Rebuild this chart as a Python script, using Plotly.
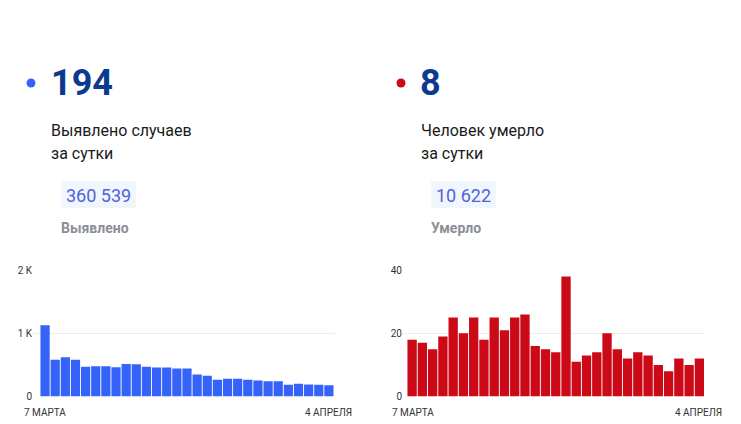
import plotly.graph_objects as go

W, H = 741, 424

days = list(range(29))
x_labels = ["7 МАРТА", "4 АПРЕЛЯ"]

cases = [1130, 580, 620, 580, 470, 480, 480, 465, 515, 510, 470, 460, 460, 445, 445,
         350, 330, 265, 280, 280, 265, 255, 240, 240, 185, 200, 190, 185, 180]
deaths = [18, 17, 15, 19, 25, 20, 25, 18, 25, 21, 25, 26, 16, 15, 14, 38, 11, 13, 14,
          20, 15, 12, 14, 13, 10, 8, 12, 10, 12]

cases_ticks = [0, 1000, 2000]
cases_ticktext = ["0", "1 K", "2 K"]
deaths_ticks = [0, 20, 40]
deaths_ticktext = ["0", "20", "40"]

headline = ["194", "8"]
subtitle_l1 = ["Выявлено случаев", "Человек умерло"]
subtitle_l2 = ["за сутки", "за сутки"]
totals = ["360 539", "10 622"]
total_labels = ["Выявлено", "Умерло"]

BLUE = "#3563f9"
RED = "#cc0a17"
NAVY = "#0b3b8f"
FONT = "Roboto"

def px(x):
    return x / W

def py(y):
    return 1 - y / H

fig = go.Figure()
fig.add_trace(go.Bar(x=days, y=cases, marker=dict(color=BLUE, line=dict(width=0)),
                     xaxis="x", yaxis="y", hoverinfo="y"))
fig.add_trace(go.Bar(x=days, y=deaths, marker=dict(color=RED, line=dict(width=0)),
                     xaxis="x2", yaxis="y2", hoverinfo="y"))

ybot, ytop = py(396.5), py(270)
axis_common = dict(showline=False, zeroline=False, ticks="", automargin=False,
                   tickfont=dict(family=FONT, size=10, color="#333"))
fig.update_layout(
    width=W, height=H, margin=dict(l=0, r=0, t=0, b=0, pad=0),
    paper_bgcolor="white", plot_bgcolor="white", showlegend=False,
    bargap=0.09,
    xaxis=dict(domain=[px(33), px(335)], range=[-1.19, 28.6], showgrid=False,
               showticklabels=False, **axis_common),
    yaxis=dict(domain=[ybot, ytop], range=[0, 2003], tickvals=cases_ticks,
               ticktext=cases_ticktext, showgrid=True, gridcolor="#ececec",
               gridwidth=1, anchor="x", **axis_common),
    xaxis2=dict(domain=[px(403), px(704)], range=[-0.89, 28.45], showgrid=False,
                showticklabels=False, anchor="y2", **axis_common),
    yaxis2=dict(domain=[ybot, ytop], range=[0, 40.06], tickvals=deaths_ticks,
                ticktext=deaths_ticktext, showgrid=True, gridcolor="#ececec",
                gridwidth=1, anchor="x2", **axis_common),
)

shapes = []
annotations = []
cols = [
    dict(dot_x=31, dot_color=BLUE, num_x=49, text_x=49, box=(61, 136), tot_x=64, lab_x=59,
         xl=(22, 354)),
    dict(dot_x=401, dot_color=RED, num_x=418, text_x=419, box=(431, 496), tot_x=434, lab_x=429,
         xl=(390, 724)),
]

def ann(text, x, y, size, color, anchor="left"):
    annotations.append(dict(text=text, xref="paper", yref="paper", x=px(x), y=py(y),
                            xanchor=anchor, yanchor="middle", showarrow=False,
                            font=dict(family=FONT, size=size, color=color)))

for i, c in enumerate(cols):
    r = 4.5
    shapes.append(dict(type="circle", xref="paper", yref="paper",
                       x0=px(c["dot_x"] - r), x1=px(c["dot_x"] + r),
                       y0=py(83 + r), y1=py(83 - r),
                       fillcolor=c["dot_color"], line=dict(width=0)))
    shapes.append(dict(type="rect", xref="paper", yref="paper",
                       x0=px(c["box"][0]), x1=px(c["box"][1]),
                       y0=py(208), y1=py(181),
                       fillcolor="#f1f5fd", line=dict(width=0), layer="below"))
    ann("<b>%s</b>" % headline[i], c["num_x"], 83, 36, NAVY)
    ann(subtitle_l1[i], c["text_x"], 130, 16, "#1a1a1a")
    ann(subtitle_l2[i], c["text_x"], 153, 16, "#1a1a1a")
    ann(totals[i], c["tot_x"], 195, 18, "#4f63e0")
    ann("<b>%s</b>" % total_labels[i], c["lab_x"], 228, 14, "#8a8e96")
    ann(x_labels[0], c["xl"][0], 412, 10, "#333")
    ann(x_labels[1], c["xl"][1], 412, 10, "#333", anchor="right")

fig.update_layout(shapes=shapes, annotations=annotations)
fig.write_html("out.html")
